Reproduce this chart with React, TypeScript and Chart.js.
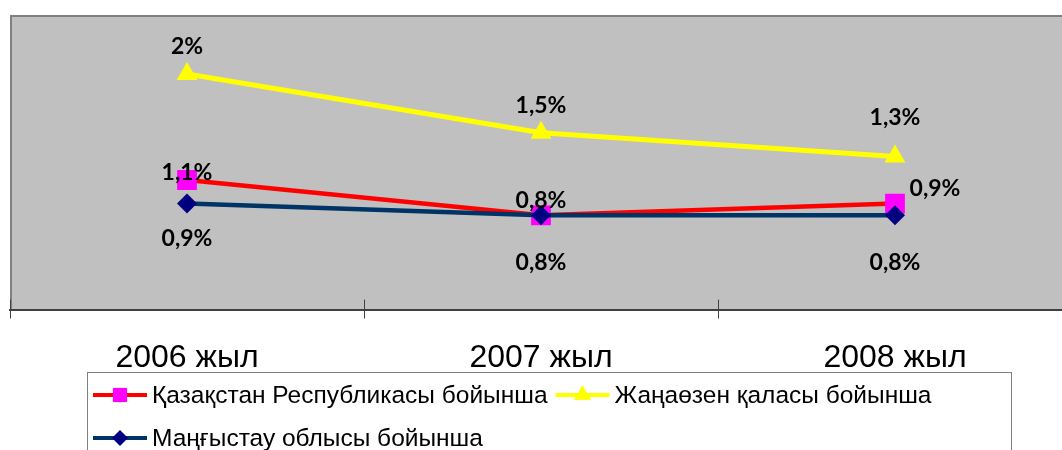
import React, { useEffect, useRef } from "react";
import { Chart, registerables } from "chart.js";

Chart.register(...registerables);

const categories = ["2006 жыл", "2007 жыл", "2008 жыл"];
const seriesNames = [
  "Қазақстан Республикасы бойынша",
  "Жаңаөзен қаласы бойынша",
  "Маңғыстау облысы бойынша",
];
const kazakhstan = [1.1, 0.8, 0.9];
const zhanaozen = [2, 1.5, 1.3];
const mangystau = [0.9, 0.8, 0.8];

// label placement offsets (dx, dy) relative to each point
const labelOffsets = [
  [[0, -7], [0, -15], [40, -15]],
  [[0, -27], [0, -27], [0, -39]],
  [[0, 35], [0, 47], [0, 47]],
];

const fmt = (v: number) => String(v).replace(".", ",") + "%";

const plotBgPlugin = {
  id: "plotBg",
  beforeDraw(chart: any) {
    const { ctx, chartArea: a } = chart;
    ctx.save();
    ctx.fillStyle = "#C0C0C0";
    ctx.fillRect(a.left, a.top, a.right - a.left, a.bottom - a.top);
    ctx.strokeStyle = "#808080";
    ctx.lineWidth = 2;
    ctx.beginPath();
    ctx.moveTo(a.left + 1, a.bottom);
    ctx.lineTo(a.left + 1, a.top + 1);
    ctx.lineTo(a.right, a.top + 1);
    ctx.stroke();
    ctx.restore();
  },
  afterDraw(chart: any) {
    const { ctx, chartArea: a } = chart;
    const n = categories.length;
    ctx.save();
    ctx.strokeStyle = "#404040";
    ctx.lineWidth = 1;
    for (let i = 0; i <= n; i++) {
      const x = Math.round(a.left + (i * (a.right - a.left)) / n) + 0.5;
      ctx.beginPath();
      ctx.moveTo(x, a.bottom - 10);
      ctx.lineTo(x, a.bottom + 9);
      ctx.stroke();
    }
    ctx.restore();
  },
};

const labelsPlugin = {
  id: "valueLabels",
  afterDatasetsDraw(chart: any) {
    const { ctx } = chart;
    ctx.save();
    ctx.font = "bold 23px Lato";
    ctx.fillStyle = "#000";
    ctx.textAlign = "center";
    ctx.textBaseline = "middle";
    chart.data.datasets.forEach((ds: any, di: number) => {
      const meta = chart.getDatasetMeta(di);
      meta.data.forEach((pt: any, i: number) => {
        const [dx, dy] = labelOffsets[di][i];
        ctx.fillText(fmt(ds.data[i]), pt.x + dx, pt.y + dy);
      });
    });
    ctx.restore();
  },
};

function drawMarker(ctx: CanvasRenderingContext2D, style: string, x: number, y: number, r: number, color: string) {
  ctx.fillStyle = color;
  ctx.beginPath();
  if (style === "rect") {
    const s = r * Math.SQRT1_2;
    ctx.rect(x - s, y - s, 2 * s, 2 * s);
  } else if (style === "triangle") {
    for (let k = 0; k < 3; k++) {
      const ang = (k * 2 * Math.PI) / 3;
      const px = x + Math.sin(ang) * r;
      const py = y - Math.cos(ang) * r;
      if (k === 0) ctx.moveTo(px, py);
      else ctx.lineTo(px, py);
    }
    ctx.closePath();
  } else {
    ctx.moveTo(x, y - r);
    ctx.lineTo(x + r, y);
    ctx.lineTo(x, y + r);
    ctx.lineTo(x - r, y);
    ctx.closePath();
  }
  ctx.fill();
}

const legendPlugin = {
  id: "customLegend",
  afterDraw(chart: any) {
    const { ctx } = chart;
    ctx.save();
    ctx.strokeStyle = "#808080";
    ctx.lineWidth = 1;
    ctx.strokeRect(87.5, 372.5, 924, 120);
    ctx.font = "24.5px 'Liberation Sans'";
    ctx.textBaseline = "middle";
    ctx.textAlign = "left";
    const dss = chart.data.datasets;
    const legendR = [10, 10, 8];
    const drawItem = (di: number, x: number, y: number) => {
      const ds = dss[di];
      ctx.strokeStyle = ds.borderColor;
      ctx.lineWidth = 4;
      ctx.beginPath();
      ctx.moveTo(x, y);
      ctx.lineTo(x + 54, y);
      ctx.stroke();
      drawMarker(ctx, ds.pointStyle, x + 27, y, legendR[di], ds.pointBackgroundColor);
      ctx.fillStyle = "#000";
      ctx.fillText(ds.label, x + 59, y + 1);
      return x + 59 + ctx.measureText(ds.label).width;
    };
    const end1 = drawItem(0, 93, 395);
    drawItem(1, end1 + 8, 395);
    drawItem(2, 93, 438);
    ctx.restore();
  },
};

export default function App() {
  const ref = useRef<HTMLCanvasElement>(null);
  useEffect(() => {
    if (!ref.current) return;
    const chart = new Chart(ref.current, {
      type: "line",
      data: {
        labels: categories,
        datasets: [
          {
            label: seriesNames[0],
            data: kazakhstan,
            borderColor: "#FF0000",
            borderWidth: 4.5,
            pointStyle: "rect",
            pointRadius: 14,
            pointBackgroundColor: "#FF00FF",
            pointBorderColor: "#FF00FF",
            pointBorderWidth: 0,
            order: 3,
          },
          {
            label: seriesNames[1],
            data: zhanaozen,
            borderColor: "#FFFF00",
            borderWidth: 5,
            pointStyle: "triangle",
            pointRadius: 12,
            pointBackgroundColor: "#FFFF00",
            pointBorderColor: "#FFFF00",
            pointBorderWidth: 0,
            order: 2,
          },
          {
            label: seriesNames[2],
            data: mangystau,
            borderColor: "#003366",
            borderWidth: 4.5,
            pointStyle: "rectRot",
            pointRadius: 10,
            pointBackgroundColor: "#000080",
            pointBorderColor: "#000080",
            pointBorderWidth: 0,
            order: 1,
          },
        ],
      },
      options: {
        responsive: false,
        animation: false,
        layout: { autoPadding: false, padding: { left: 10, top: 15, right: 8, bottom: 44 } },
        plugins: { legend: { display: false }, tooltip: { enabled: false } },
        scales: {
          x: {
            offset: true,
            grid: { display: false, drawTicks: false },
            border: { display: true, color: "#404040", width: 2 },
            ticks: {
              padding: 29,
              color: "#000",
              font: { family: "'Liberation Sans'", size: 32 },
              maxRotation: 0,
            },
          },
          y: { display: false, min: 0, max: 2.5 },
        },
      },
      plugins: [plotBgPlugin, labelsPlugin, legendPlugin],
    });
    return () => chart.destroy();
  }, []);
  return (
    <div
      style={{
        position: "fixed",
        left: 0,
        top: 0,
        width: 1062,
        height: 450,
        overflow: "hidden",
        background: "#fff",
      }}
    >
      <canvas ref={ref} width={1080} height={450} style={{ display: "block" }} />
    </div>
  );
}
